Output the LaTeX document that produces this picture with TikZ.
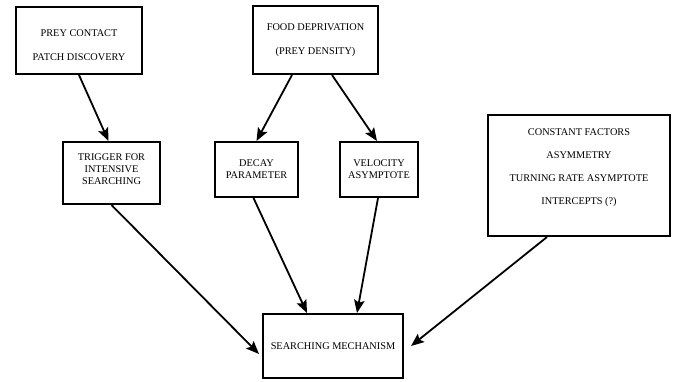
\documentclass[tikz,border=0pt]{standalone}
\usepackage{fontspec}
\setmainfont{Liberation Serif}
\usetikzlibrary{arrows.meta}
\tikzstyle{arrow} = [line width=1.8pt,-{Stealth[length=13pt,width=10.5pt,inset=2.5pt]}]
\tikzstyle{box} = [draw, line width=2pt, align=center, inner sep=0pt,
	font=\fontsize{10.3}{12}\selectfont]

\begin{document}
\begin{tikzpicture}[x=1pt,y=-1pt]
		\useasboundingbox (0,0) rectangle (676,381);

		% top row
		\node[box, minimum width=126pt, minimum height=67pt] (contact) at (79,40.5)
			{\rule{0pt}{17pt}PREY CONTACT\\[12pt] PATCH DISCOVERY};
		\node[box, minimum width=125pt, minimum height=68pt] (food) at (315.5,40)
			{FOOD DEPRIVATION\\[12pt] (PREY DENSITY)};

		% middle row
		\node[box, minimum width=97pt, minimum height=62pt] (trigger) at (111.5,173)
			{TRIGGER FOR\\ INTENSIVE\\ SEARCHING\rule[-8pt]{0pt}{8pt}};
		\node[box, minimum width=83pt, minimum height=55pt] (decay) at (256.5,169.5)
			{DECAY\\ PARAMETER};
		\node[box, minimum width=78pt, minimum height=55pt] (velocity) at (379,169.5)
			{VELOCITY\\ ASYMPTOTE};
		\node[box, minimum width=182pt, minimum height=121pt] (constant) at (579,175.5) {};
		\node[align=center, font=\fontsize{10.3}{12}\selectfont] (factors) at ([yshift=8pt]constant.center)
			{CONSTANT FACTORS\\[11pt] ASYMMETRY\\[11pt] TURNING RATE ASYMPTOTE\\[11pt] INTERCEPTS (?)};

		% bottom
		\node[box, minimum width=140pt, minimum height=64pt] (search) at (333,346)
			{SEARCHING MECHANISM};

		\draw[arrow] (contact.south) -- ([xshift=-3pt]trigger.north);
		\draw[arrow] ([xshift=-23.5pt]food.south) -- (decay.north);
		\draw[arrow] ([xshift=16.5pt]food.south) -- ([xshift=-2pt]velocity.north);
		\draw[arrow] (trigger.south) -- ([xshift=-3pt,yshift=-8pt]search.west);
		\draw[arrow] ([xshift=-3pt]decay.south) -- ([xshift=-26pt]search.north);
		\draw[arrow] ([xshift=-1pt]velocity.south) -- ([xshift=24pt]search.north);
		\draw[arrow] ([xshift=-32pt]constant.south) -- ([xshift=7pt]search.east);
	\end{tikzpicture}
\end{document}
